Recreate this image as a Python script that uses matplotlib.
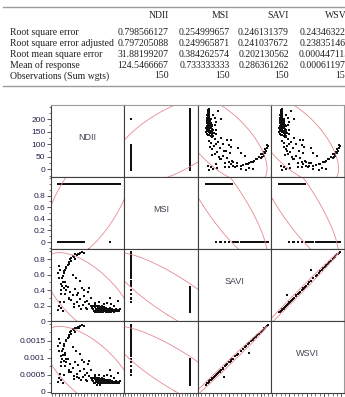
import numpy as np
import matplotlib
matplotlib.use('Agg')
import matplotlib.pyplot as plt
from matplotlib.ticker import MultipleLocator

# --- summary table -------------------------------------------------------
table_cols = ['NDII', 'MSI', 'SAVI', 'WSVI']
row_labels = ['Root square error', 'Root square error adjusted',
              'Root mean square error', 'Mean of response',
              'Observations (Sum wgts)']
col_ndii = ['0.798566127', '0.797205088', '31.88199207', '124.5466667', '150']
col_msi = ['0.254999657', '0.249965871', '0.384262574', '0.733333333', '150']
col_savi = ['0.246131379', '0.241037672', '0.202130562', '0.286361262', '150']
col_wsvi = ['0.243463225', '0.238351465', '0.000447115', '0.000611975', '150']

# --- observations ------------------------
ndii = [128, 132, 135, 138, 140, 142, 145, 147, 150, 152,
        154, 156, 158, 160, 162, 164, 166, 168, 170, 172,
        174, 176, 178, 180, 182, 184, 186, 188, 190, 192,
        194, 196, 198, 200, 202, 204, 206, 208, 210, 212,
        214, 216, 218, 220, 222, 225, 228, 232, 236, 240,
        133, 143, 149, 157, 163, 171, 177, 185, 193, 201,
        153, 161, 167, 175, 183, 191, 199, 207,
        140, 158, 175, 190, 205, 232, 215,
        20, 25, 30, 35, 40, 45, 50, 55, 60, 65,
        70, 75, 80, 85, 90, 95, 100, 105, 110, 115,
        120, 125, 130, 112, 98, 88, 72, 58, 118, 102,
        -2, 2, 5, 10, 15,
        45, 50, 55, 60, 65, 70, 75, 80, 85, 92, 98, 62,
        10, 12, 15, 14, 18, 20, 22, 25, 28, 30, 35, 40, 42, 48, 8,
        0, -2, 3, 5, 8, 25, 30, 55, 66, 85, 40, 200, 20]
msi = [1] * 110 + [0] * 40
savi = [0.19, 0.17, 0.15, 0.13, 0.18, 0.12, 0.16, 0.14, 0.19, 0.13,
        0.17, 0.15, 0.12, 0.18, 0.14, 0.16, 0.13, 0.15, 0.17, 0.12,
        0.14, 0.16, 0.13, 0.15, 0.14, 0.12, 0.16, 0.13, 0.14, 0.15,
        0.13, 0.12, 0.14, 0.15, 0.13, 0.14, 0.12, 0.13, 0.15, 0.14,
        0.13, 0.12, 0.14, 0.13, 0.15, 0.14, 0.13, 0.14, 0.13, 0.15,
        0.20, 0.21, 0.11, 0.20, 0.11, 0.19, 0.18, 0.17, 0.16, 0.17,
        0.15, 0.13, 0.12, 0.13, 0.13, 0.12, 0.13, 0.14,
        0.23, 0.24, 0.22, 0.23, 0.22, 0.26, 0.20,
        0.42, 0.35, 0.40, 0.44, 0.30, 0.38, 0.27, 0.33, 0.22, 0.41,
        0.25, 0.36, 0.19, 0.29, 0.43, 0.21, 0.32, 0.17, 0.26, 0.38,
        0.22, 0.30, 0.18, 0.15, 0.40, 0.16, 0.34, 0.18, 0.42, 0.24,
        0.14, 0.20, 0.25, 0.17, 0.13,
        0.80, 0.82, 0.84, 0.83, 0.86, 0.85, 0.87, 0.86, 0.88, 0.89, 0.88, 0.80,
        0.40, 0.45, 0.50, 0.55, 0.58, 0.62, 0.64, 0.66, 0.68, 0.70, 0.72, 0.74, 0.76, 0.78, 0.48,
        0.71, 0.62, 0.55, 0.66, 0.35, 0.50, 0.45, 0.60, 0.55, 0.52, 0.28, 0.30, 0.24]
wsvi = [0.00039, 0.00035, 0.00030, 0.00026, 0.00037, 0.00024, 0.00033, 0.00028, 0.00039, 0.00026,
        0.00035, 0.00030, 0.00024, 0.00037, 0.00028, 0.00033, 0.00026, 0.00030, 0.00035, 0.00024,
        0.00028, 0.00033, 0.00026, 0.00030, 0.00028, 0.00024, 0.00033, 0.00026, 0.00028, 0.00030,
        0.00026, 0.00024, 0.00028, 0.00030, 0.00026, 0.00028, 0.00024, 0.00026, 0.00030, 0.00028,
        0.00026, 0.00024, 0.00028, 0.00026, 0.00030, 0.00028, 0.00026, 0.00028, 0.00026, 0.00030,
        0.00041, 0.00044, 0.00021, 0.00041, 0.00021, 0.00039, 0.00037, 0.00035, 0.00033, 0.00035,
        0.00030, 0.00026, 0.00024, 0.00026, 0.00026, 0.00024, 0.00026, 0.00028,
        0.00048, 0.00050, 0.00046, 0.00048, 0.00046, 0.00055, 0.00041,
        0.00090, 0.00075, 0.00086, 0.00095, 0.00064, 0.00081, 0.00057, 0.00070, 0.00046, 0.00088,
        0.00053, 0.00077, 0.00039, 0.00061, 0.00092, 0.00044, 0.00068, 0.00035, 0.00055, 0.00081,
        0.00046, 0.00064, 0.00037, 0.00030, 0.00086, 0.00033, 0.00044, 0.00037, 0.00090, 0.00050,
        0.00028, 0.00041, 0.00053, 0.00035, 0.00026,
        0.00175, 0.00179, 0.00183, 0.00181, 0.00188, 0.00186, 0.00190, 0.00188, 0.00193, 0.00195, 0.00193, 0.00175,
        0.00086, 0.00097, 0.00108, 0.00119, 0.00126, 0.00135, 0.00139, 0.00113, 0.00148, 0.00152, 0.00157,
        0.00161, 0.00166, 0.00170, 0.00104,
        0.00155, 0.00135, 0.00119, 0.00144, 0.00075, 0.00108, 0.00097, 0.00130, 0.00119, 0.00112,
        0.00059, 0.00064, 0.00050]

var_names = ['NDII', 'MSI', 'SAVI', 'WSVI']
var_lims = [(-30, 256), (-0.12, 1.12), (0, 0.93), (-0.00004, 0.00208)]
ytick_vals = [[0, 50, 100, 150, 200],
              [0, 0.2, 0.4, 0.6, 0.8],
              [0, 0.2, 0.4, 0.6, 0.8],
              [0, 0.0005, 0.001, 0.0015]]
ytick_text = [['0', '50', '100', '150', '200'],
              ['0', '0.2', '0.4', '0.6', '0.8'],
              ['0', '0.2', '0.4', '0.6', '0.8'],
              ['0', '0.0005', '0.001', '0.0015']]
minor_step = [25, 0.1, 0.1, 0.00025]
xtick_step = [50, 0.2, 0.2, 0.0005]

data = [np.array(ndii, float), np.array(msi, float),
        np.array(savi, float), np.array(wsvi, float)]

W, H = 345, 397
fig = plt.figure(figsize=(W / 100, H / 100), dpi=100)


def fx(x):
    return x / W


def fy(y):
    return 1 - y / H


serif = ['Liberation Serif', 'DejaVu Serif']
sans = ['Liberation Sans', 'DejaVu Sans']

# table rules
fig.add_artist(plt.Line2D([fx(3), fx(345)], [fy(6.5), fy(6.5)], color='#9a9a9a', lw=1.0))
fig.add_artist(plt.Line2D([fx(3), fx(345)], [fy(86), fy(86)], color='#9a9a9a', lw=1.0))

# the last column runs past the right edge, as in the source page
col_right = [168.5, 229.5, 289, 350]
columns = [col_ndii, col_msi, col_savi, col_wsvi]
for name, xr in zip(table_cols, col_right):
    fig.text(fx(xr), fy(15), name, ha='right', va='center', fontsize=7, family=serif,
             color='#202020')
row_y = [32.3, 43.3, 54.2, 65.2, 76]
for lab, yy in zip(row_labels, row_y):
    fig.text(fx(10.5), fy(yy), lab, ha='left', va='center', fontsize=7, family=serif,
             color='#202020')
for vals, xr in zip(columns, col_right):
    for v, yy in zip(vals, row_y):
        fig.text(fx(xr), fy(yy), v, ha='right', va='center', fontsize=7, family=serif,
                 color='#202020')

# scatterplot matrix
left, right, top, bottom = 51, 344, 105, 393
cw = (right - left) / 4
ch = (bottom - top) / 4
t = np.linspace(0, 2 * np.pi, 300)
r95 = np.sqrt(5.991)

for i in range(4):
    for j in range(4):
        ax = fig.add_axes([fx(left + j * cw), fy(top + (i + 1) * ch), cw / W, ch / H])
        ax.set_xlim(var_lims[j])
        ax.set_ylim(var_lims[i])
        for s in ax.spines.values():
            s.set_color('#404040')
            s.set_linewidth(0.8)
        if i == 0:
            ax.spines['top'].set_color('#9a9a9a')
        if j == 3:
            ax.spines['right'].set_color('#9a9a9a')
        if i == j:
            ax.text(0.5, 0.55, var_names[i], transform=ax.transAxes, ha='center',
                    va='center', fontsize=6.5, color='#404050', family=sans)
        else:
            x, y = data[j], data[i]
            m = np.array([x.mean(), y.mean()])
            vals, vecs = np.linalg.eigh(np.cov(x, y))
            circ = np.vstack([np.cos(t), np.sin(t)]) * (np.sqrt(vals)[:, None] * r95)
            e = vecs @ circ + m[:, None]
            ax.plot(e[0], e[1], color='#e58a90', lw=0.6)
            ax.scatter(x, y, s=0.8, marker='s', color='#101010', linewidths=0)
        if j == 0:
            ax.set_yticks(ytick_vals[i])
            ax.set_yticklabels(ytick_text[i])
            ax.yaxis.set_minor_locator(MultipleLocator(minor_step[i]))
            ax.tick_params(axis='y', which='major', length=3, width=0.6, pad=1,
                           labelsize=6, labelcolor='#202048', color='#404040')
            ax.tick_params(axis='y', which='minor', length=1.5, width=0.5, color='#404040')
            for lbl in ax.get_yticklabels():
                lbl.set_family(sans)
        else:
            ax.set_yticks([])
        if i == 3:
            ax.xaxis.set_major_locator(MultipleLocator(xtick_step[j]))
            ax.xaxis.set_minor_locator(MultipleLocator(xtick_step[j] / 4))
            ax.tick_params(axis='x', which='major', length=3.5, width=0.6,
                           labelbottom=False, color='#404040')
            ax.tick_params(axis='x', which='minor', length=2, width=0.5, color='#404040')
        else:
            ax.set_xticks([])

fig.savefig('out.png', dpi=100)
